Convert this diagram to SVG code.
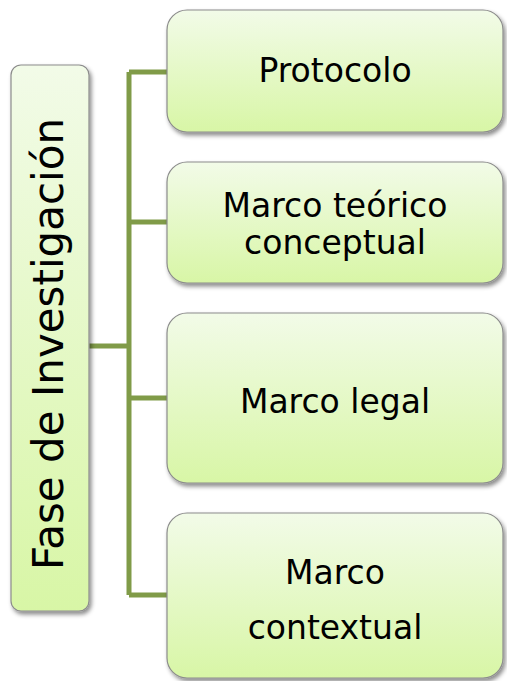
<svg xmlns="http://www.w3.org/2000/svg" width="507" height="681" viewBox="0 0 507 681">
<defs>
<linearGradient id="g" x1="0" y1="0" x2="0" y2="1">
<stop offset="0" stop-color="#f2fbe8"/>
<stop offset="1" stop-color="#d8f6a6"/>
</linearGradient>
<linearGradient id="gl" x1="0" y1="0" x2="0" y2="1">
<stop offset="0" stop-color="#f2fbe8"/>
<stop offset="1" stop-color="#d8f6a6"/>
</linearGradient>
<filter id="sh" x="-10%" y="-10%" width="130%" height="130%">
<feDropShadow dx="2" dy="3" stdDeviation="2" flood-color="#000" flood-opacity="0.45"/>
</filter>
</defs>
<style>
.box{fill:url(#g);stroke:#8c8c8c;stroke-width:1.2;filter:url(#sh)}
.lbl{font-family:"DejaVu Sans",sans-serif;font-size:33px;fill:#000;text-anchor:middle}
.conn{fill:none;stroke:#809b48;stroke-width:5;stroke-linecap:butt}
</style>
<g id="connectors">
<path class="conn" d="M89 346 H129"/>
<path class="conn" d="M129 72 V595"/>
<path class="conn" d="M129 72 H168"/>
<path class="conn" d="M129 222 H168"/>
<path class="conn" d="M129 398 H168"/>
<path class="conn" d="M129 595 H168"/>
</g>
<g id="fase">
<rect class="box" x="11" y="65" width="78" height="546" rx="10" fill="url(#gl)"/>
<text class="lbl" style="font-size:42px" transform="translate(63,344) rotate(-90)">Fase de Investigación</text>
</g>
<g id="protocolo">
<rect class="box" x="167" y="10" width="336" height="122" rx="20"/>
<text class="lbl" x="335" y="82">Protocolo</text>
</g>
<g id="marco-teorico">
<rect class="box" x="167" y="162" width="336" height="121" rx="20"/>
<text class="lbl" x="335" y="217">Marco teórico</text>
<text class="lbl" x="335" y="254">conceptual</text>
</g>
<g id="marco-legal">
<rect class="box" x="167" y="313" width="336" height="170" rx="20"/>
<text class="lbl" x="335" y="413">Marco legal</text>
</g>
<g id="marco-contextual">
<rect class="box" x="167" y="513" width="336" height="165" rx="20"/>
<text class="lbl" x="335" y="584">Marco</text>
<text class="lbl" x="335" y="639">contextual</text>
</g>
</svg>
